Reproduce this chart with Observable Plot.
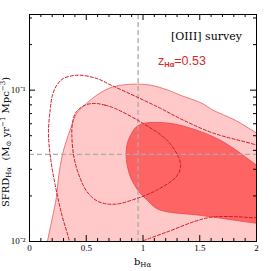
<!DOCTYPE html>
<html><head><meta charset="utf-8">
<script src="https://cdn.jsdelivr.net/npm/d3@7"></script>
<script src="https://cdn.jsdelivr.net/npm/@observablehq/plot@0.6"></script>
<style>html,body{margin:0;padding:0;background:#fff}svg{display:block}</style>
</head><body><div id="chart"></div>
<script>
// outer (light) confidence region
const outerB    = [0.143, 0.158, 0.238, 0.255, 0.294, 0.358, 0.417, 0.505, 0.593, 0.666, 0.754, 0.913, 1.062, 1.221, 1.327, 1.518, 1.617, 1.811, 1.998, 2.12, 2.12];
const outerSFRD = [0.0085, 0.0100, 0.0198, 0.0263, 0.0385, 0.0545, 0.0705, 0.082, 0.0927, 0.100, 0.106, 0.1095, 0.108, 0.100, 0.0927, 0.082, 0.0738, 0.0634, 0.0523, 0.0468, 0.0085];
// inner (dark) confidence region
const innerB    = [1.001, 1.151, 1.327, 1.620, 1.793, 1.998, 2.12, 2.12, 2.002, 1.503, 1.136, 1.036, 0.974, 0.930, 0.893, 0.863, 0.851, 0.863, 0.901, 0.939];
const innerSFRD = [0.0603, 0.0611, 0.0587, 0.0492, 0.0415, 0.0320, 0.0275, 0.0129, 0.0132, 0.0149, 0.0163, 0.0188, 0.0209, 0.0233, 0.0263, 0.0312, 0.0385, 0.0448, 0.0521, 0.057];
// dashed contour (outer)
const dashOuterB    = [0.367, 0.352, 0.285, 0.226, 0.182, 0.167, 0.182, 0.2025, 0.241, 0.299, 0.4287, 0.593, 0.728, 0.930, 1.1505, 1.3266, 1.617, 1.998, 2.163, 2.25, 2.163, 1.998, 1.811, 1.608, 1.4586, 1.2386, 0.9894, 0.842];
const dashOuterSFRD = [0.00817, 0.0100, 0.0150, 0.0237, 0.0373, 0.0528, 0.0738, 0.0927, 0.108, 0.1194, 0.1256, 0.1194, 0.1071, 0.0913, 0.0761, 0.0649, 0.0521, 0.0434, 0.039, 0.0237, 0.0152, 0.0144, 0.0146, 0.0145, 0.0136, 0.01176, 0.0100, 0.00882];
// dashed contour (inner)
const dashInnerB    = [0.578, 0.666, 0.754, 1.001, 1.2095, 1.3116, 1.331, 1.2914, 1.124, 0.9745, 0.754, 0.607, 0.508, 0.446, 0.393, 0.373, 0.380, 0.411, 0.490];
const dashInnerSFRD = [0.0817, 0.0796, 0.0757, 0.0603, 0.0468, 0.0363, 0.0311, 0.0267, 0.0219, 0.0196, 0.01764, 0.01835, 0.02126, 0.0262, 0.0356, 0.0505, 0.0615, 0.0716, 0.0796];
// fiducial values
const refB = [0.957];
const refSFRD = [0.0377];
// ticks
const xMajor = [0, 0.5, 1, 1.5, 2];
const xMajorLabels = ["0", "0.5", "1", "1.5", "2"];
const xMinor = [0.1,0.2,0.3,0.4,0.6,0.7,0.8,0.9,1.1,1.2,1.3,1.4,1.6,1.7,1.8,1.9];
const yMajor = [0.01, 0.1];
const yMajorLabels = ["10\u207B\u00B2", "10\u207B\u00B9"];
const yMinor = [0.02,0.03,0.04,0.05,0.06,0.07,0.08,0.09,0.2,0.3];

const pts = (bs, ss) => bs.map((b, i) => ({b, s: ss[i]}));

const W = 271, H = 271, mL = 29, mR = 15, mT = 14, mB = 30;
const fW = W - mL - mR, fH = H - mT - mB;
const red = "#d42a2a";

const ticksX = (vals, len) => [
  Plot.tickX(vals, {x: d => d, insetTop: fH - len, stroke: "#000"}),
  Plot.tickX(vals, {x: d => d, insetBottom: fH - len, stroke: "#000"})
];
const ticksY = (vals, len) => [
  Plot.tickY(vals, {y: d => d, insetRight: fW - len, stroke: "#000"}),
  Plot.tickY(vals, {y: d => d, insetLeft: fW - len, stroke: "#000"})
];

const svg = Plot.plot({
  width: W, height: H,
  marginLeft: mL, marginRight: mR, marginTop: mT, marginBottom: mB,
  style: {fontFamily: "Liberation Serif", fontSize: "9px", background: "#fff", color: "#000"},
  x: {domain: [0, 2]},
  y: {type: "log", domain: [0.01, 0.3162]},
  marks: [
    Plot.line(pts(outerB, outerSFRD), {x: "b", y: "s", curve: "catmull-rom-closed", fill: "#ffc9c9", stroke: "#e65a5a", strokeWidth: 0.8, clip: true}),
    Plot.line(pts(innerB, innerSFRD), {x: "b", y: "s", curve: "catmull-rom-closed", fill: "#ff6464", stroke: "#e84848", strokeWidth: 0.8, clip: true}),
    Plot.ruleX(refB, {x: d => d, stroke: "#aaaaaa", strokeWidth: 1.3, strokeDasharray: "5,3"}),
    Plot.ruleY(refSFRD, {y: d => d, stroke: "#aaaaaa", strokeWidth: 1.3, strokeDasharray: "5,3"}),
    Plot.line(pts(dashOuterB, dashOuterSFRD), {x: "b", y: "s", curve: "catmull-rom", stroke: "#cc1a24", strokeWidth: 1, strokeDasharray: "3,2", clip: true}),
    Plot.line(pts(dashInnerB, dashInnerSFRD), {x: "b", y: "s", curve: "catmull-rom-closed", stroke: "#cc1a24", strokeWidth: 1, strokeDasharray: "3,2", clip: true}),
    ...ticksX(xMinor, 3), ...ticksX(xMajor, 6),
    ...ticksY(yMinor, 3), ...ticksY(yMajor, 6),
    Plot.axisX({ticks: xMajor, tickSize: 0, tickPadding: 3, tickFormat: d => xMajorLabels[xMajor.indexOf(d)], label: null}),
    Plot.axisY({ticks: yMajor, tickSize: 0, tickPadding: 4, tickFormat: d => yMajorLabels[yMajor.indexOf(d)], label: null}),
    Plot.frame({stroke: "#000", strokeWidth: 1})
  ]
});

const s = d3.select(svg);
// title
s.append("text").attr("x", 242).attr("y", 40).attr("text-anchor", "end")
  .attr("font-family", "DejaVu Serif").attr("font-size", 11).attr("fill", "#000").text("[OIII] survey");
// redshift label
const z = s.append("text").attr("x", 182).attr("y", 65).attr("fill", red)
  .attr("font-family", "Liberation Sans").attr("font-size", 12.5);
z.append("tspan").text("z");
z.append("tspan").attr("font-size", 7.5).attr("font-weight", "bold").attr("dy", 2).text("H\u03B1");
z.append("tspan").attr("dy", -2).text("=0.53");
// y label
const yl = s.append("text").attr("transform", "translate(9,142) rotate(-90)").attr("text-anchor", "middle")
  .attr("font-family", "DejaVu Serif").attr("font-size", 10).attr("fill", "#000");
yl.append("tspan").text("SFRD");
yl.append("tspan").attr("font-size", 7).attr("dy", 2).text("H\u03B1");
yl.append("tspan").attr("dy", -2).text("\u00A0 (M");
yl.append("tspan").attr("font-size", 7).attr("dy", 2).text("\u2299");
yl.append("tspan").attr("dy", -2).text(" yr");
yl.append("tspan").attr("font-size", 7).attr("dy", -4).text("\u22121");
yl.append("tspan").attr("dy", 4).text(" Mpc");
yl.append("tspan").attr("font-size", 7).attr("dy", -4).text("\u22123");
yl.append("tspan").attr("dy", 4).text(")");
// x label
const xl = s.append("text").attr("x", 142.5).attr("y", 265).attr("text-anchor", "middle")
  .attr("font-family", "DejaVu Serif").attr("font-size", 10).attr("fill", "#000");
xl.append("tspan").text("b");
xl.append("tspan").attr("font-size", 7).attr("dy", 2).text("H\u03B1");

document.getElementById("chart").appendChild(svg);
</script></body></html>
